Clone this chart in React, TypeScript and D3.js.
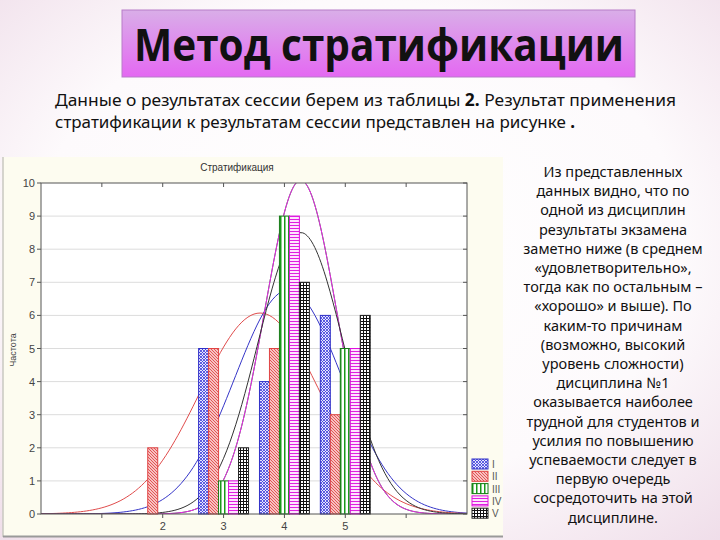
import React from "react";
import * as d3 from "d3";

const grades = [2, 3, 4, 5];
const seriesNames = ["I", "II", "III", "IV", "V"];
const countsI = [0, 5, 4, 6];
const countsII = [2, 5, 5, 3];
const countsIII = [0, 1, 9, 5];
const countsIV = [0, 1, 9, 5];
const countsV = [0, 2, 7, 6];
const yTicks = [0, 1, 2, 3, 4, 5, 6, 7, 8, 9, 10];
const xTickLabels = [2, 3, 4, 5];
const xTicks = [1, 2, 3, 4, 5, 6];

const titleText = "Метод стратификации";
const chartTitle = "Стратификация";
const yTitle = "Частота";
const bodyLines = [
  "Из представленных",
  "данных видно, что по",
  "одной из дисциплин",
  "результаты экзамена",
  "заметно ниже (в среднем",
  "«удовлетворительно»,",
  "тогда как по остальным –",
  "«хорошо» и выше). По",
  "каким-то причинам",
  "(возможно, высокий",
  "уровень сложности)",
  "дисциплина №1",
  "оказывается наиболее",
  "трудной для студентов и",
  "усилия по повышению",
  "успеваемости следует в",
  "первую очередь",
  "сосредоточить на этой",
  "дисциплине.",
];

const allCounts = [countsI, countsII, countsIII, countsIV, countsV];
const strokeColors = ["#3030c8", "#e04444", "#137a13", "#e010e0", "#222222"];
const curveColors = ["#3535c8", "#e04c4c", "#1c8a1c", "#f020f0", "#333333"];

export default function App() {
  const x = d3.scaleLinear().domain([0, 7]).range([41, 467]);
  const y = d3.scaleLinear().domain([0, 10]).range([514, 183]);
  const groupW = (x(1) - x(0)) * 0.82;
  const band = d3.scaleBand<string>().domain(seriesNames).range([0, groupW]);

  const curves = allCounts.map((c) => {
    const n = d3.sum(c);
    const mean = d3.sum(c.map((v, i) => v * grades[i])) / n;
    const ss = d3.sum(c.map((v, i) => v * (grades[i] - mean) ** 2));
    const sd = Math.sqrt(ss / (n - 1));
    const pts = d3.range(0, 7.001, 0.05).map((t) => [
      t,
      (n / (sd * Math.sqrt(2 * Math.PI))) * Math.exp(-0.5 * ((t - mean) / sd) ** 2),
    ]);
    return d3
      .line<number[]>()
      .x((d) => x(d[0]))
      .y((d) => y(d[1]))
      .curve(d3.curveMonotoneX)(pts as any) as string;
  });

  const sans = "'Liberation Sans', Arial, sans-serif";

  return (
    <svg
      width={720}
      height={540}
      style={{ position: "absolute", left: 0, top: 0 }}
      xmlns="http://www.w3.org/2000/svg"
    >
      <defs>
        <radialGradient id="bg" cx="50%" cy="45%" r="75%">
          <stop offset="0%" stopColor="#ffffff" />
          <stop offset="60%" stopColor="#fdfafc" />
          <stop offset="100%" stopColor="#efdde9" />
        </radialGradient>
        <linearGradient id="titleGrad" x1="0" y1="0" x2="0" y2="1">
          <stop offset="0%" stopColor="#d9aee8" />
          <stop offset="100%" stopColor="#e468f2" />
        </linearGradient>
        <clipPath id="plotClip">
          <rect x={41} y={183} width={426} height={331} />
        </clipPath>
        <pattern id="p0" width={3} height={3} patternUnits="userSpaceOnUse">
          <rect width={3} height={3} fill="#e6e6ff" />
          <path d="M0,0 L3,3 M3,0 L0,3" stroke="#3a3ad8" strokeWidth={0.8} />
        </pattern>
        <pattern id="p1" width={3} height={3} patternUnits="userSpaceOnUse">
          <rect width={3} height={3} fill="#f7c2c2" />
          <path d="M0,0 L3,3 M-1,2 L1,4 M2,-1 L4,1" stroke="#e04848" strokeWidth={0.9} />
        </pattern>
        <pattern id="p2" width={4} height={4} patternUnits="userSpaceOnUse">
          <rect width={4} height={4} fill="#ffffff" />
          <rect x={0} y={0} width={1.5} height={4} fill="#1a9a1a" />
        </pattern>
        <pattern id="p3" width={3} height={3} patternUnits="userSpaceOnUse">
          <rect width={3} height={3} fill="#fde4fd" />
          <rect x={0} y={0} width={3} height={1} fill="#e020e0" />
        </pattern>
        <pattern id="p4" width={3} height={3} patternUnits="userSpaceOnUse">
          <rect width={3} height={3} fill="#ffffff" />
          <rect x={0} y={0} width={3} height={1} fill="#111" />
          <rect x={0} y={0} width={1} height={3} fill="#111" />
        </pattern>
      </defs>

      <rect width={720} height={540} fill="url(#bg)" />

      {/* Title box */}
      <rect x={122} y={10} width={513} height={67} fill="url(#titleGrad)" stroke="#b77cc8" strokeWidth={1} />
      <text
        x={379}
        y={61}
        textAnchor="middle"
        fontFamily="'Open Sans', sans-serif"
        fontWeight="bold"
        fontSize={44}
        textLength={490}
        lengthAdjust="spacingAndGlyphs"
        fill="#111"
      >
        {titleText}
      </text>

      {/* Subtitle */}
      <text x={55} y={106} fontFamily="'Noto Sans', sans-serif" fontSize={17} textLength={621} lengthAdjust="spacingAndGlyphs" fill="#111">
        Данные о результатах сессии берем из таблицы <tspan fontWeight="bold">2.</tspan> Результат применения
      </text>
      <text x={55} y={128} fontFamily="'Noto Sans', sans-serif" fontSize={17} textLength={520} lengthAdjust="spacingAndGlyphs" fill="#111">
        стратификации к результатам сессии представлен  на рисунке <tspan fontWeight="bold">.</tspan>
      </text>

      {/* Chart panel */}
      <rect x={3} y={157} width={500} height={380} fill="#fdfcf0" />
      <line x1={3} y1={157} x2={3} y2={537} stroke="#c8c8c0" strokeWidth={1.5} />
      <line x1={3} y1={536.5} x2={503} y2={536.5} stroke="#9a9a9a" strokeWidth={2} />

      <text x={237} y={171} textAnchor="middle" fontFamily={sans} fontSize={10} fill="#333">
        {chartTitle}
      </text>

      {/* Plot area */}
      <rect x={41} y={183} width={426} height={331} fill="#ffffff" />
      {yTicks.slice(1, -1).map((t) => (
        <line key={"g" + t} x1={41} x2={467} y1={y(t)} y2={y(t)} stroke="#dcdcdc" strokeWidth={1} />
      ))}

      <g clipPath="url(#plotClip)">
        {curves.map((d, i) => (
          <path key={"c" + i} d={d} fill="none" stroke={curveColors[i]} strokeWidth={1} />
        ))}
      </g>

      {grades.map((g, gi) => (
        <g key={"grp" + g}>
          {allCounts.map((c, si) =>
            c[gi] > 0 ? (
              <rect
                key={"b" + si}
                x={x(g) - groupW / 2 + (band(seriesNames[si]) as number)}
                y={y(c[gi])}
                width={band.bandwidth()}
                height={y(0) - y(c[gi])}
                fill={`url(#p${si})`}
                stroke={strokeColors[si]}
                strokeWidth={1}
              />
            ) : null
          )}
        </g>
      ))}

      {/* Frame */}
      <rect x={41} y={183} width={426} height={331} fill="none" stroke="#555" strokeWidth={1} />
      {yTicks.map((t) => (
        <g key={"yt" + t}>
          <line x1={37} x2={41} y1={y(t)} y2={y(t)} stroke="#555" />
          <line x1={463} x2={467} y1={y(t)} y2={y(t)} stroke="#555" />
          <text x={35} y={y(t) + 4} textAnchor="end" fontFamily={sans} fontSize={11} fill="#444">
            {t}
          </text>
        </g>
      ))}
      {xTicks.map((t) => (
        <g key={"xt" + t}>
          <line x1={x(t)} x2={x(t)} y1={183} y2={187} stroke="#555" />
          <line x1={x(t)} x2={x(t)} y1={514} y2={518} stroke="#555" />
        </g>
      ))}
      {xTickLabels.map((t) => (
        <text key={"xl" + t} x={x(t)} y={530} textAnchor="middle" fontFamily={sans} fontSize={11} fill="#444">
          {t}
        </text>
      ))}
      <text
        transform="translate(16,350) rotate(-90)"
        textAnchor="middle"
        fontFamily={sans}
        fontSize={9}
        fill="#444"
      >
        {yTitle}
      </text>

      {/* Legend */}
      {seriesNames.map((s, i) => {
        const cy = 464 + i * 12.3;
        return (
          <g key={"lg" + s}>
            <rect x={472} y={cy - 5} width={16} height={10} fill={`url(#p${i})`} stroke={strokeColors[i]} />
            <text x={492} y={cy + 4} fontFamily={sans} fontSize={10} fill="#555">
              {s}
            </text>
          </g>
        );
      })}

      {/* Right text */}
      {bodyLines.map((l, i) => (
        <text
          key={"t" + i}
          x={613}
          y={177 + i * 19.2}
          textAnchor="middle"
          fontFamily="'Noto Sans', sans-serif"
          fontSize={14.5}
          fill="#111"
        >
          {l}
        </text>
      ))}
    </svg>
  );
}
